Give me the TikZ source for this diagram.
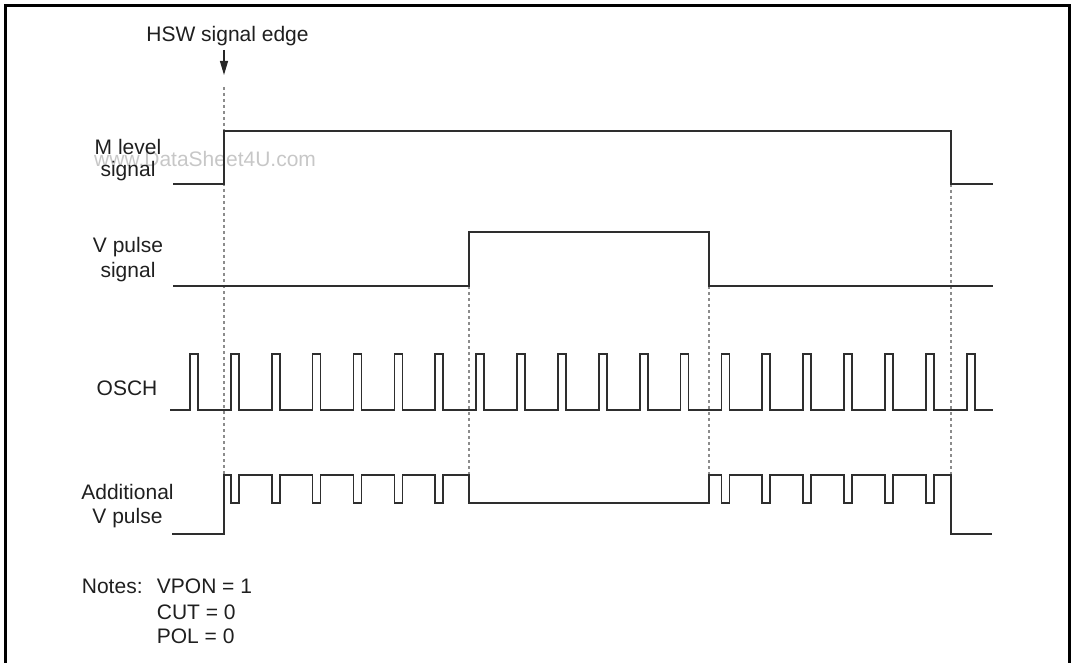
\documentclass[tikz,border=0pt]{standalone}
\usepackage{fontspec}
\setmainfont{Liberation Sans}
\usetikzlibrary{arrows.meta}
\begin{document}
\begin{tikzpicture}[x=1pt,y=-1pt,
  lab/.style={inner sep=0pt,anchor=base,text=black!88,font=\fontsize{21}{25}\selectfont},
  labl/.style={lab,anchor=base west},
  wave/.style={line width=1.7pt,draw=black!82,line join=miter},
  guide/.style={line width=1.1pt,draw=black!45,dash pattern=on 3pt off 3pt},
  frame/.style={line width=3pt,draw=black}]
\useasboundingbox (0,0) rectangle (1074,663);
% frame
\draw[frame] (5,663) -- (5,5.5) -- (1069,5.5) -- (1069,663);
% watermark
\node[labl,text=black!22] (wm) at (94,166.7) {www.DataSheet4U.com};
% guide lines
\coordinate (g1t) at (224,87);  \coordinate (g1b) at (224,475);
\coordinate (g2t) at (469,286); \coordinate (g2b) at (469,475);
\coordinate (g3t) at (709,286); \coordinate (g3b) at (709,475);
\coordinate (g4t) at (951,184); \coordinate (g4b) at (951,475);
\draw[guide] (g1t) -- (g1b);
\draw[guide] (g2t) -- (g2b);
\draw[guide] (g3t) -- (g3b);
\draw[guide] (g4t) -- (g4b);
% HSW label and arrow
\node[lab] (hsw) at (227.5,41.7) {HSW signal edge};
\coordinate (hswa) at (224,50);
\coordinate (hswb) at (224,75);
\draw[line width=1.2pt,draw=black!85,-{Triangle[length=14pt,width=8pt]}] (hswa) -- (hswb);
% row labels
\node[lab] (m1) at (128,155) {M level};
\node[lab] (m2) at (128,177) {signal};
\node[lab] (v1) at (128,253) {V pulse};
\node[lab] (v2) at (128,278) {signal};
\node[lab] (osch) at (127,395) {OSCH};
\node[lab] (a1) at (127.5,499) {Additional};
\node[lab] (a2) at (127.5,523) {V pulse};
% notes
\node[labl] (notes) at (81.7,593.3) {Notes:};
\node[labl] (n1) at (156.7,593.3) {VPON = 1};
\node[labl] (n2) at (156.7,619.3) {CUT = 0};
\node[labl] (n3) at (156.7,643.3) {POL = 0};
% M level signal
\draw[wave] (173,184) -- (224,184) -- (224,131) -- (951,131) -- (951,184) -- (993,184);
% V pulse signal
\draw[wave] (173,286) -- (469,286) -- (469,232) -- (709,232) -- (709,286) -- (993,286);
% OSCH
\draw[wave] (170,410) foreach \k in {0,...,19} { -- ({190+40.88*\k},410) -- ++(0,-56) -- ++(8,0) -- ++(0,56) } -- (993,410);
% Additional V pulse
\draw[wave] (172,534) -- (224,534) -- (224,475)
  foreach \k in {1,...,6} { -- ({190+40.88*\k},475) -- ++(0,28) -- ++(8,0) -- ++(0,-28) }
  -- (469,475) -- (469,503) -- (709,503) -- (709,475)
  foreach \k in {13,...,18} { -- ({190+40.88*\k},475) -- ++(0,28) -- ++(8,0) -- ++(0,-28) }
  -- (951,475) -- (951,534) -- (992,534);
\end{tikzpicture}
\end{document}
